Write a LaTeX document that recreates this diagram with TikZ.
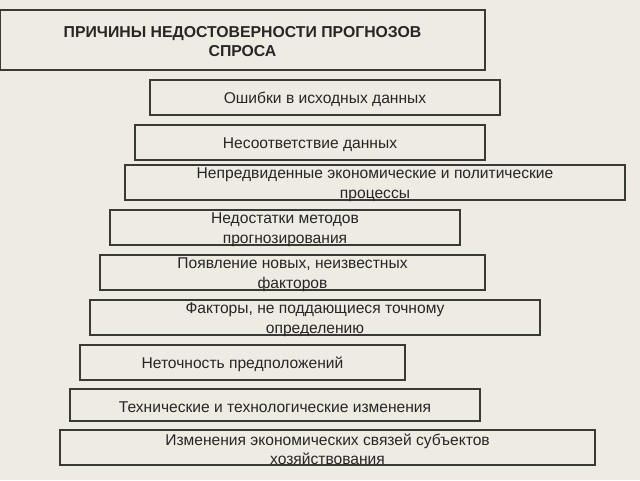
\documentclass[tikz,border=0pt]{standalone}
\usepackage{fontspec}
\setmainfont{Liberation Sans}
\definecolor{bg}{HTML}{EEEBE3}
\definecolor{edge}{HTML}{3A3A34}
\begin{document}
\begin{tikzpicture}[x=1pt,y=-1pt,
  cause/.style={draw=edge, line width=1.6pt, fill=bg, rectangle, inner sep=0pt},
  causetext/.style={inner sep=0pt, align=center, font=\fontsize{15.6}{19.5}\selectfont, text=black!85},
  titletext/.style={inner sep=0pt, align=center, font=\fontsize{15.8}{18.5}\selectfont\bfseries, text=black!85}]
\fill[bg] (0,0) rectangle (640,480);
\useasboundingbox (0,0) rectangle (640,480);
\node[cause, minimum width=485pt, minimum height=60pt] (title) at (242.5,40) {};
\node[cause, minimum width=350pt, minimum height=35pt] (c1) at (325,97.5) {};
\node[cause, minimum width=350pt, minimum height=35pt] (c2) at (310,142.5) {};
\node[cause, minimum width=500pt, minimum height=35pt] (c3) at (375,182.5) {};
\node[cause, minimum width=350pt, minimum height=35pt] (c4) at (285,227.5) {};
\node[cause, minimum width=385pt, minimum height=35pt] (c5) at (292.5,272.5) {};
\node[cause, minimum width=450pt, minimum height=35pt] (c6) at (315,317.5) {};
\node[cause, minimum width=325pt, minimum height=35pt] (c7) at (242.5,362.5) {};
\node[cause, minimum width=410pt, minimum height=32pt] (c8) at (275,405) {};
\node[cause, minimum width=535pt, minimum height=35pt] (c9) at (327.5,447.5) {};
\node[titletext] (titlet) at ([yshift=-1.5pt]title.center) {ПРИЧИНЫ НЕДОСТОВЕРНОСТИ ПРОГНОЗОВ\\СПРОСА};
\node[causetext] (c1t) at ([yshift=-2pt]c1.center) {Ошибки в исходных данных};
\node[causetext] (c2t) at ([yshift=-2pt]c2.center) {Несоответствие данных};
\node[causetext] (c3t) at ([yshift=-2pt]c3.center) {Непредвиденные экономические и политические\\процессы};
\node[causetext] (c4t) at ([yshift=-2pt]c4.center) {Недостатки методов\\прогнозирования};
\node[causetext] (c5t) at ([yshift=-2pt]c5.center) {Появление новых, неизвестных\\факторов};
\node[causetext] (c6t) at ([yshift=-2pt]c6.center) {Факторы, не поддающиеся точному\\определению};
\node[causetext] (c7t) at ([yshift=-2pt]c7.center) {Неточность предположений};
\node[causetext] (c8t) at ([yshift=-2pt]c8.center) {Технические и технологические изменения};
\node[causetext] (c9t) at ([yshift=-2pt]c9.center) {Изменения экономических связей субъектов\\хозяйствования};
\end{tikzpicture}
\end{document}
